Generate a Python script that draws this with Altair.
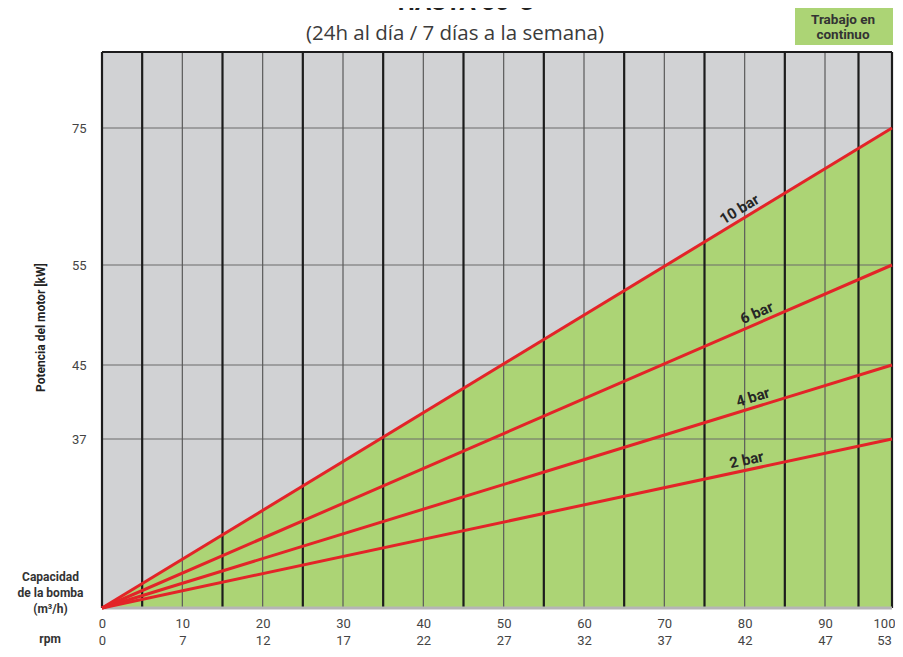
import altair as alt
import pandas as pd

# ---- data ----
capacity_ticks = [0, 10, 20, 30, 40, 50, 60, 70, 80, 90, 100]
rpm_ticks = [0, 7, 12, 17, 22, 27, 32, 37, 42, 47, 53]
power_ticks = [37, 45, 55, 75]
pressure_labels = ["10 bar", "6 bar", "4 bar", "2 bar"]
power_at_max = [75, 55, 45, 37]
cap_max = 100
major_lines = [5, 15, 25, 35, 45, 55, 65, 75, 85, 95]
minor_lines = [10, 20, 30, 40, 50, 60, 70, 80, 90]
label_cap = [80, 82, 81.4, 80.5]
label_kw = [61.9, 49.3, 40.5, 30.3]
label_angle = [328.5, 336.4, 342.7, 347.8]
kw_top = 86

# ---- styling ----
W, H = 790, 556
GRAY_BG = "#d1d2d4"
GREEN = "#acd475"
RED = "#e32428"
FONT = "Roboto"

xscale = alt.Scale(domain=[0, 90, cap_max], range=[0, 723, W], nice=False, zero=False)
yscale = alt.Scale(domain=[0, 37, 45, 55, 75, kw_top], range=[H, 387, 313, 213, 76, 0],
                   nice=False, zero=False)

rpm_js = "[" + ",".join("'%d'" % r for r in rpm_ticks) + "]"
cap_js = "[" + ",".join(str(c) for c in capacity_ticks) + "]"
label_expr = "[format(datum.value,'d'), %s[indexof(%s, datum.value)]]" % (rpm_js, cap_js)

x_axis = alt.Axis(values=capacity_ticks, labelExpr=label_expr, labelLineHeight=17,
                  labelPadding=9, labelColor="#444", labelFontSize=13, labelFont=FONT,
                  labelOffset={"condition": {"test": "datum.value == %d" % cap_max, "value": -8},
                               "value": 0},
                  ticks=False, domain=False, grid=False,
                  title=["Capacidad", "de la bomba", "(m³/h)"], titleX=-52, titleY=-37,
                  titleBaseline="top", titleAlign="center", titleAngle=0,
                  titleFontSize=12, titleFontWeight="bold", titleColor="#333",
                  titleLineHeight=16, titleFont=FONT, labelFlush=False, labelOverlap=False)
y_axis = alt.Axis(values=power_ticks, labelPadding=16, labelFontSize=13, labelColor="#444",
                  labelFont=FONT, ticks=False, domain=False, grid=False,
                  title="Potencia del motor [kW]", titleX=-62, titleY=275, titleAngle=270,
                  titleAlign="center", titleBaseline="middle", titleFontSize=12,
                  titleFontWeight="bold", titleColor="#222", titleFont=FONT)


def X():
    return alt.X("cap:Q", scale=xscale, axis=x_axis)


def Y():
    return alt.Y("kw:Q", scale=yscale, axis=y_axis)


rows = []
for lab, end in zip(pressure_labels, power_at_max):
    rows.append({"serie": lab, "cap": 0, "kw": 0})
    rows.append({"serie": lab, "cap": cap_max, "kw": end})
lines_df = pd.DataFrame(rows)
area_df = lines_df[lines_df["serie"] == "10 bar"]

area = alt.Chart(area_df).mark_area(color=GREEN, opacity=1).encode(x=X(), y=Y())

hgrid = alt.Chart(pd.DataFrame({"kw": power_ticks})).mark_rule(
    color="#6a6a6a", strokeWidth=1).encode(y=Y())
minor = alt.Chart(pd.DataFrame({"cap": minor_lines})).mark_rule(
    color="#5a5a5a", strokeWidth=1.2).encode(x=X())
major = alt.Chart(pd.DataFrame({"cap": major_lines + [0, cap_max]})).mark_rule(
    color="#1c1c1c", strokeWidth=2.2).encode(x=X())
top_border = alt.Chart(pd.DataFrame({"kw": [kw_top]})).mark_rule(
    color="#1c1c1c", strokeWidth=2).encode(y=Y())
bottom_border = alt.Chart(pd.DataFrame({"kw": [0]})).mark_rule(
    color="#b5b5b5", strokeWidth=3).encode(y=Y())

red = alt.Chart(lines_df).mark_line(color=RED, strokeWidth=3).encode(
    x=X(), y=Y(), detail="serie:N")

labels_df = pd.DataFrame({"label": pressure_labels, "cap": label_cap, "kw": label_kw,
                          "angle": label_angle})
line_labels = alt.Chart(labels_df).mark_text(
    baseline="alphabetic", align="center", dy=-5, fontSize=15, fontWeight="bold",
    color="#262626", font=FONT).encode(
    x=X(), y=Y(), text="label:N", angle=alt.Angle("angle:Q", scale=None))

title = alt.Chart(pd.DataFrame({"t": ["HASTA 35°C"]})).mark_text(
    fontSize=24, fontWeight="bold", color="#222", align="center", baseline="alphabetic",
    font=FONT).encode(x=alt.value(364), y=alt.value(-42), text="t:N")
subtitle = alt.Chart(pd.DataFrame({"t": ["(24h al día / 7 días a la semana)"]})).mark_text(
    fontSize=20.5, color="#3b3b3b", align="center", baseline="middle",
    font="Open Sans").encode(x=alt.value(353), y=alt.value(-18), text="t:N")
legend_box = alt.Chart(pd.DataFrame({"t": ["Trabajo en continuo"]})).mark_rect(
    color=GREEN).encode(x=alt.value(693), x2=alt.value(791), y=alt.value(-44), y2=alt.value(-7))
legend_text1 = alt.Chart(pd.DataFrame({"t": ["Trabajo en"]})).mark_text(
    fontSize=13.5, fontWeight="bold", color="#333", align="center", baseline="middle",
    font=FONT).encode(x=alt.value(741), y=alt.value(-32), text="t:N")
legend_text2 = alt.Chart(pd.DataFrame({"t": ["continuo"]})).mark_text(
    fontSize=13.5, fontWeight="bold", color="#333", align="center", baseline="middle",
    font=FONT).encode(x=alt.value(741), y=alt.value(-17), text="t:N")
rpm_text = alt.Chart(pd.DataFrame({"t": ["rpm"]})).mark_text(
    fontSize=12, fontWeight="bold", color="#333", align="center", baseline="middle",
    font=FONT).encode(x=alt.value(-52), y=alt.value(H + 31), text="t:N")

chart = alt.layer(
    area, hgrid, minor, major, top_border, bottom_border, red, line_labels,
    title, subtitle, legend_box, legend_text1, legend_text2, rpm_text
).properties(
    width=W, height=H,
    autosize=alt.AutoSizeParams(type="none"),
    padding={"left": 94, "top": 44, "right": 3, "bottom": 38},
).configure(font=FONT).configure_view(fill=GRAY_BG, stroke=None)

chart.save("out.html", embed_options={"renderer": "svg", "actions": False})
